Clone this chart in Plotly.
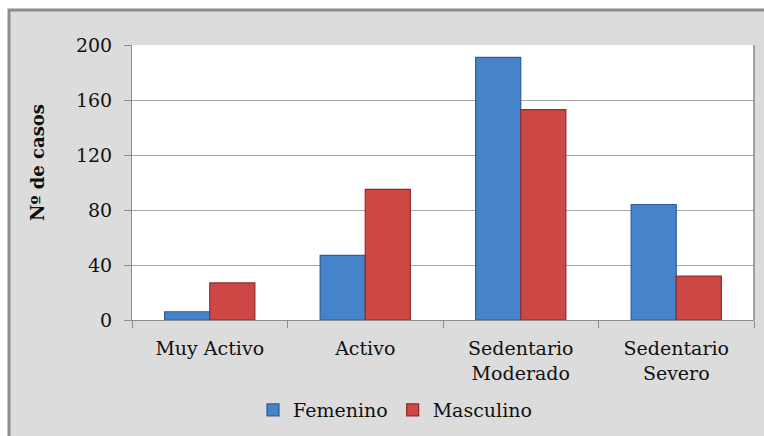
import plotly.graph_objects as go

categories = ["Muy Activo", "Activo", "Sedentario<br>Moderado", "Sedentario<br>Severo"]
femenino = [6, 47, 191, 84]
masculino = [27, 95, 153, 32]
y_ticks = [0, 40, 80, 120, 160, 200]

W, H = 764, 436
L, R, T, B = 132, 10, 45, 116
pw, ph = W - L - R, H - T - B

def px(x):
    return (x - L) / pw

def py(y):
    return (H - B - y) / ph

font = "'DejaVu Serif', serif"

fig = go.Figure()
fig.add_bar(name="Femenino", x=categories, y=femenino,
            marker=dict(color="#4683CB", line=dict(color="#2E5E94", width=1.2)))
fig.add_bar(name="Masculino", x=categories, y=masculino,
            marker=dict(color="#CD4745", line=dict(color="#8E2C2A", width=1.2)))

fig.update_layout(
    width=W, height=H,
    margin=dict(l=L, r=R, t=T, b=B, autoexpand=False),
    paper_bgcolor="white",
    plot_bgcolor="white",
    barmode="group",
    bargap=0.42,
    bargroupgap=0,
    font=dict(family=font, size=19, color="#111111"),
    showlegend=True,
    legend=dict(orientation="h", x=px(395), y=py(410), xanchor="center", yanchor="middle",
                bgcolor="rgba(0,0,0,0)", font=dict(size=19), itemwidth=30,
                traceorder="normal", tracegroupgap=0),
    xaxis=dict(showline=True, linecolor="#8C8C8C", linewidth=1, ticks="outside",
               tickcolor="#8C8C8C", ticklen=7, tickson="boundaries",
               showgrid=False, ticklabelstandoff=11, automargin=False),
    yaxis=dict(range=[0, 200], tickvals=y_ticks, showline=True, linecolor="#8C8C8C",
               linewidth=1, ticks="outside", tickcolor="#8C8C8C", ticklen=7,
               gridcolor="#A6A6A6", gridwidth=1, ticklabelstandoff=8, automargin=False),
    annotations=[
        dict(text="<b>Nº de casos</b>", xref="paper", yref="paper",
             x=px(37), y=py(163), textangle=-90, showarrow=False,
             xanchor="center", yanchor="middle", font=dict(size=18)),
    ],
    shapes=[
        dict(type="rect", xref="paper", yref="paper", layer="below",
             x0=px(9), x1=px(W + 20), y0=py(H + 20), y1=py(10),
             fillcolor="#DCDCDC", line=dict(color="#8C8C8C", width=3)),
        dict(type="rect", xref="paper", yref="paper", layer="below",
             x0=0, x1=1, y0=0, y1=1, fillcolor="white", line=dict(width=0)),
        dict(type="line", xref="paper", yref="paper", layer="above",
             x0=1, x1=1, y0=0, y1=1, line=dict(color="#6E6E6E", width=1.2)),
    ],
)

fig.write_html("out.html", post_script="document.body.style.margin='0';",
               config={"displayModeBar": False})
